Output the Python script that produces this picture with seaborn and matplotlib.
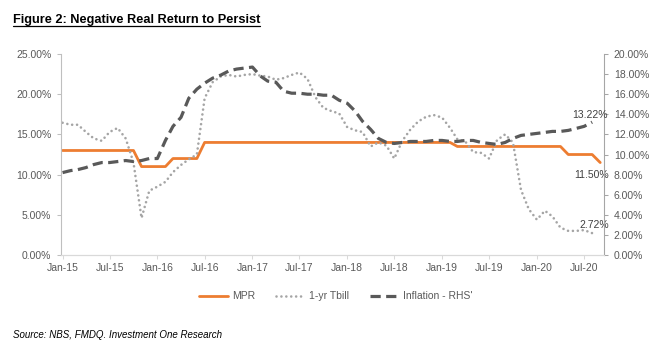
import pandas as pd
import matplotlib.pyplot as plt
import matplotlib.dates as mdates
from matplotlib.ticker import PercentFormatter, MultipleLocator
from matplotlib.lines import Line2D
import seaborn as sns

# --- data, monthly from Jan-15 ---
mpr = [
    13, 13, 13, 13, 13, 13, 13, 13, 13, 13, 11, 11,              # 2015
    11, 11, 12, 12, 12, 12, 14, 14, 14, 14, 14, 14,              # 2016
    14, 14, 14, 14, 14, 14, 14, 14, 14, 14, 14, 14,              # 2017
    14, 14, 14, 14, 14, 14, 14, 14, 14, 14, 14, 14,              # 2018
    14, 14, 13.5, 13.5, 13.5, 13.5,
    13.5, 13.5, 13.5, 13.5, 13.5, 13.5,                          # 2019
    13.5, 13.5, 13.5, 13.5, 12.5, 12.5, 12.5, 12.5, 11.5,        # 2020 (to Sep)
]

tbill = [
    16.45, 16.2, 16.2, 15.3, 14.5, 14.2, 15.3, 15.8, 14.5, 11.5, 4.6, 8.0,
    8.5, 9.1, 10.3, 11.2, 11.9, 12.5, 19.5, 21.5, 22.2, 22.4, 22.2, 22.4,
    22.5, 22.3, 22.2, 21.8, 22.0, 22.4, 22.7, 21.9, 19.6, 18.3, 17.9, 17.6,
    15.9, 15.5, 15.3, 13.5, 14.0, 13.6, 12.0, 14.2, 15.6, 16.6, 17.2, 17.4,
    17.1, 15.8, 14.4, 14.1, 12.8, 12.7, 12.0, 14.3, 15.0, 14.0, 8.1, 5.7,
    4.4, 5.5, 4.8, 3.4, 3.0, 3.0, 3.1, 2.72,
]

inflation = [
    8.2, 8.4, 8.5, 8.7, 9.0, 9.2, 9.2, 9.3, 9.4, 9.3, 9.4, 9.6,
    9.6, 11.4, 12.8, 13.7, 15.6, 16.5, 17.1, 17.6, 17.9, 18.3, 18.5, 18.6,
    18.7, 17.8, 17.3, 17.2, 16.3, 16.1, 16.1, 16.0, 16.0, 15.9, 15.9, 15.4,
    15.1, 14.3, 13.3, 12.5, 11.6, 11.2, 11.1, 11.2, 11.3, 11.3, 11.3, 11.4,
    11.4, 11.3, 11.3, 11.4, 11.4, 11.2, 11.1, 11.0, 11.2, 11.6, 11.9, 12.0,
    12.1, 12.2, 12.3, 12.3, 12.4, 12.6, 12.8, 13.22,
]

mpr_dates = pd.date_range('2015-01-01', periods=len(mpr), freq='MS')
tbill_dates = pd.date_range('2015-01-01', periods=len(tbill), freq='MS')
infl_dates = pd.date_range('2015-01-01', periods=len(inflation), freq='MS')

sns.set_style('white')
plt.rcParams['font.family'] = ['Liberation Sans', 'DejaVu Sans']

ORANGE = '#ED7D31'
LGREY = '#A5A5A5'
DGREY = '#595959'
TXT = '#595959'

fig = plt.figure(figsize=(6.69, 3.53), dpi=100)
ax = fig.add_axes([0.0912, 0.2776, 0.8118, 0.5694])
ax2 = ax.twinx()

sns.lineplot(x=mpr_dates, y=mpr, ax=ax, color=ORANGE, linewidth=2.0, label='MPR', legend=False)
sns.lineplot(x=tbill_dates, y=tbill, ax=ax, color=LGREY, linewidth=1.9,
             linestyle=(0, (0.01, 1.85)), dash_capstyle='round', label='1-yr Tbill', legend=False)
sns.lineplot(x=infl_dates, y=inflation, ax=ax2, color=DGREY, linewidth=2.3,
             linestyle=(0, (3.2, 1.7)), label="Inflation - RHS'", legend=False)

ax.set_xlim(mdates.date2num(pd.Timestamp('2014-12-26')), mdates.date2num(pd.Timestamp('2020-09-16')))
ax.set_ylim(0, 25)
ax2.set_ylim(0, 20)
ax.yaxis.set_major_locator(MultipleLocator(5))
ax2.yaxis.set_major_locator(MultipleLocator(2))
ax.yaxis.set_major_formatter(PercentFormatter(100, decimals=2))
ax2.yaxis.set_major_formatter(PercentFormatter(100, decimals=2))
ax.xaxis.set_major_locator(mdates.MonthLocator(bymonth=[1, 7]))
ax.xaxis.set_major_formatter(mdates.DateFormatter('%b-%y'))
ax.set_xlabel('')
ax.set_ylabel('')
ax2.set_ylabel('')
ax.grid(False)
ax2.grid(False)

for a in (ax, ax2):
    a.spines['top'].set_visible(False)
    a.spines['bottom'].set_color('#D9D9D9')
    a.spines['left'].set_color('#BFBFBF')
    a.spines['right'].set_color('#A6A6A6')
ax.spines['right'].set_visible(False)
ax2.spines['left'].set_visible(False)

ax.tick_params(axis='both', labelsize=7.5, labelcolor=TXT, direction='out',
               length=3, width=0.75, color='#BFBFBF', pad=3)
ax.tick_params(axis='y', left=True, pad=4)
ax.tick_params(axis='x', bottom=True, colors='#D9D9D9', labelcolor=TXT)
ax2.tick_params(axis='y', right=True, labelsize=7.5, labelcolor=TXT, direction='out',
                length=3, width=0.75, color='#A6A6A6', pad=4)

# data labels at the last points
last_mpr_x = mdates.date2num(mpr_dates[-1])
last_tb_x = mdates.date2num(tbill_dates[-1])
last_in_x = mdates.date2num(infl_dates[-1])
ax2.annotate('13.22%', xy=(last_in_x, inflation[-1]), xytext=(-1.5, 1.5),
             textcoords='offset points', ha='center', va='bottom', fontsize=7.5,
             color='#404040', annotation_clip=False)
ax.annotate('11.50%', xy=(last_mpr_x, mpr[-1]), xytext=(-6.5, -9),
            textcoords='offset points', ha='center', va='center', fontsize=7.5,
            color='#404040', annotation_clip=False)
ax.annotate('2.72%', xy=(last_tb_x, tbill[-1]), xytext=(1.5, 5.5),
            textcoords='offset points', ha='center', va='center', fontsize=7.5,
            color='#404040', annotation_clip=False)

# legend
h1, l1 = ax.get_legend_handles_labels()
h2, l2 = ax2.get_legend_handles_labels()
fig.legend(h1 + h2, l1 + l2, loc='center', bbox_to_anchor=(0.502, 0.161), ncol=3,
           frameon=False, fontsize=7.5, labelcolor=TXT, handlelength=2.8,
           handletextpad=0.4, columnspacing=2.0)

# title + source
title = fig.text(0.019, 0.935, 'Figure 2: Negative Real Return to Persist', fontsize=9.2,
                 fontweight='bold', color='#000000', ha='left', va='baseline')
fig.text(0.019, 0.051, 'Source: NBS, FMDQ. Investment One Research', fontsize=7,
         style='italic', color='#000000', ha='left', va='center')

fig.canvas.draw()
bb = title.get_window_extent().transformed(fig.transFigure.inverted())
uy = 0.935 - 0.008
fig.add_artist(Line2D([bb.x0, bb.x1], [uy, uy], transform=fig.transFigure,
                      color='#000000', linewidth=0.9))

fig.savefig('out.png', dpi=100)
